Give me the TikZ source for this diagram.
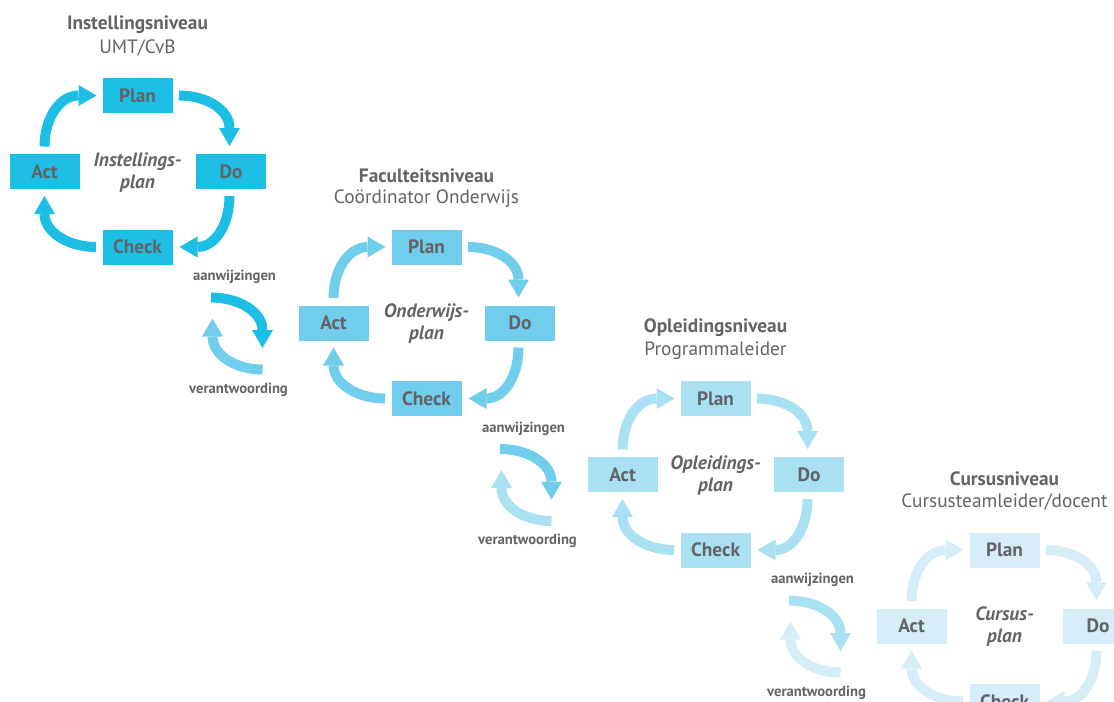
\documentclass[tikz,border=0pt]{standalone}
\usepackage{fontspec}
\setmainfont{PT Sans}
\usetikzlibrary{arrows.meta,calc}
\definecolor{txt}{RGB}{99,99,104}
\definecolor{cA}{RGB}{28,190,228}
\definecolor{cB}{RGB}{112,206,236}
\definecolor{cC}{RGB}{170,225,242}
\definecolor{cD}{RGB}{212,237,247}
\tikzset{
  pdcabox/.style={minimum width=52.5pt, minimum height=26.25pt, inner sep=0pt, outer sep=0pt,
    text=txt, font=\bfseries\fontsize{14.5}{16}\selectfont},
  ttl/.style={inner sep=0pt, text=txt, font=\bfseries\fontsize{14.5}{16}\selectfont},
  subttl/.style={inner sep=0pt, text=txt, font=\fontsize{14.5}{16}\selectfont},
  ctr/.style={inner sep=0pt, text=txt, align=center, font=\bfseries\itshape\fontsize{14.5}{16.5}\selectfont},
  lbl/.style={inner sep=0pt, text=txt, font=\bfseries\fontsize{11}{12}\selectfont},
  arr/.style={draw=#1, line width=7.5pt,
    -{Triangle[width=15.75pt,length=13.5pt,line width=0pt]}}
}
\newcommand\pdcacycle[8]{%
  \begin{scope}[shift={(#2,#3)}]
    \node[pdcabox,fill=#4] (#1P) at (0,0) {Plan};
    \node[pdcabox,fill=#4] (#1A) at (-93,76) {Act};
    \node[pdcabox,fill=#4] (#1D) at (93.5,76) {Do};
    \node[pdcabox,fill=#4] (#1C) at (0,151.5) {Check};
    \node[ttl] (#1T) at (0,-71) {#5};
    \node[subttl] (#1S) at (0,-48) {#6};
    \node[ctr] (#1M) at (0,77) {#7\\#8};
    \draw[arr=#4] ([xshift=4.875pt]#1P.east) .. controls +(28,0) and +(0,-18) ..
      ([xshift=-1.125pt,yshift=19.5pt]#1D.north) -- ([xshift=-1.125pt,yshift=6pt]#1D.north);
    \draw[arr=#4] ([xshift=-1.125pt,yshift=-5.25pt]#1D.south) .. controls +(0,28) and +(18,0) ..
      ([xshift=18.75pt]#1C.east) -- ([xshift=5.25pt]#1C.east);
    \draw[arr=#4] ([xshift=-4.875pt]#1C.west) .. controls +(-28,0) and +(0,18) ..
      ([yshift=-18.75pt]#1A.south) -- ([yshift=-5.25pt]#1A.south);
    \draw[arr=#4] ([yshift=5.625pt]#1A.north) .. controls +(0,-28) and +(-19,0) ..
      ([xshift=-18pt]#1P.west) -- ([xshift=-4.5pt]#1P.west);
  \end{scope}}
\newcommand\handover[5]{%
  \begin{scope}[shift={(#2,#3)}]
    \node[lbl] (#1w) at (97,181.5) {aanwijzingen};
    \node[lbl] (#1v) at (101,294) {verantwoording};
    \coordinate (#1t0) at (73.5,202);
    \coordinate (#1t1) at (125,234.5);
    \coordinate (#1t2) at (125,252.5);
    \coordinate (#1b0) at (125,274);
    \coordinate (#1b1) at (75,241);
    \coordinate (#1b2) at (75,223);
    \draw[arr=#4] (#1t0) .. controls +(28,0) and +(0,-18) .. (#1t1) -- (#1t2);
    \draw[arr=#5] (#1b0) .. controls +(-28,0) and +(0,18) .. (#1b1) -- (#1b2);
  \end{scope}}
\begin{document}
\begin{tikzpicture}[x=0.75pt,y=-0.75pt]
  \useasboundingbox (0,0) rectangle (1114,701);
  \clip (0,0) rectangle (1114,701);
  \pdcacycle{a}{137.5}{95.5}{cA}{Instellingsniveau}{UMT/CvB}{Instellings-}{plan}
  \pdcacycle{b}{426.5}{247}{cB}{Faculteitsniveau}{Coördinator Onderwijs}{Onderwijs-}{plan}
  \pdcacycle{c}{715.5}{398.5}{cC}{Opleidingsniveau}{Programmaleider}{Opleidings-}{plan}
  \pdcacycle{d}{1004.5}{550}{cD}{Cursusniveau}{Cursusteamleider/docent}{Cursus-}{plan}
  \handover{ab}{137.5}{95.5}{cA}{cB}
  \handover{bc}{426.5}{247}{cB}{cC}
  \handover{cd}{715.5}{398.5}{cC}{cD}
\end{tikzpicture}
\end{document}
